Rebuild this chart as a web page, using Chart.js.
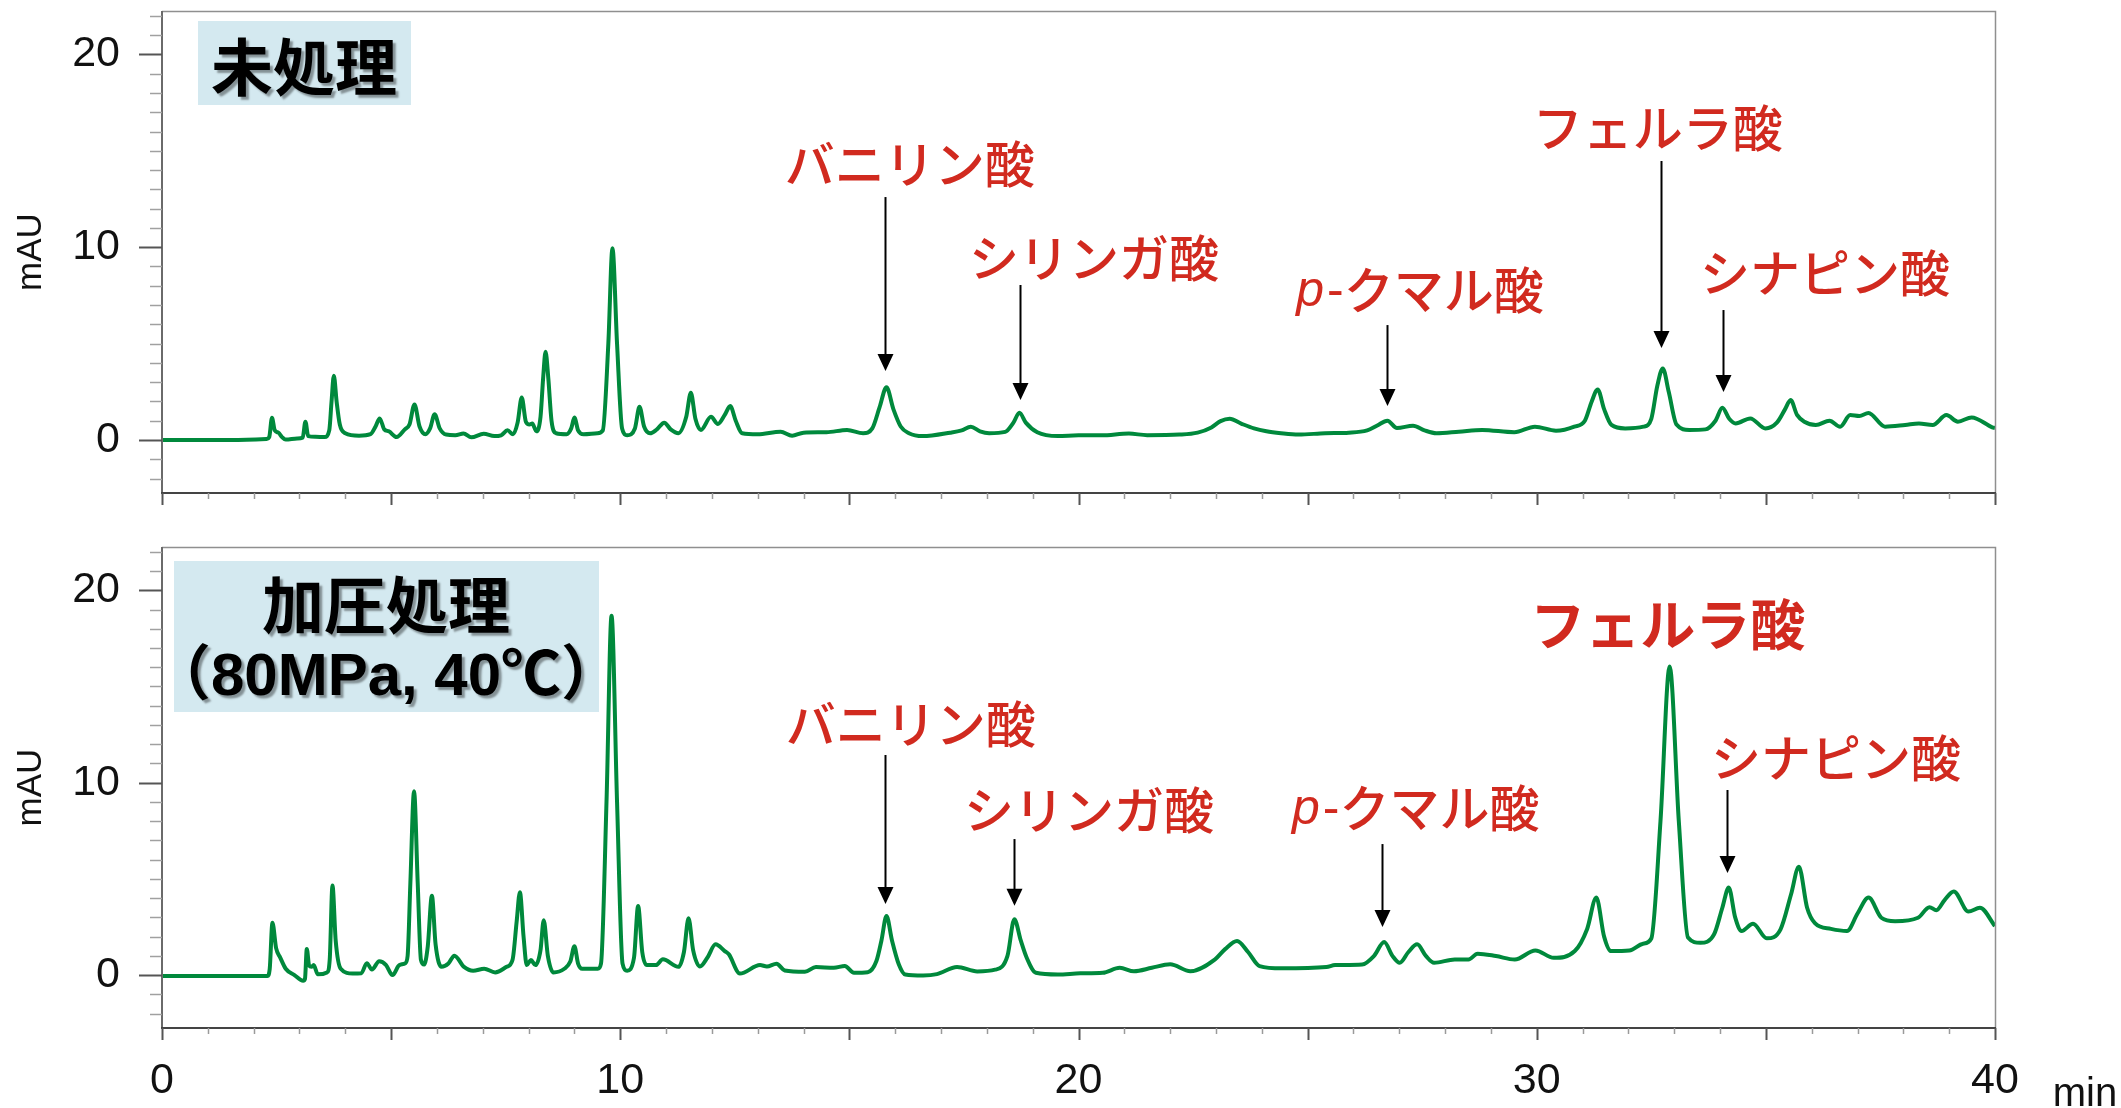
<!DOCTYPE html>
<html>
<head>
<meta charset="utf-8">
<script src="https://cdn.jsdelivr.net/npm/chart.js@4/dist/chart.umd.min.js"></script>
<style>
  html, body { margin: 0; padding: 0; background: #ffffff; }
  #wrap { position: relative; width: 2121px; height: 1108px; overflow: hidden; }
  canvas { position: absolute; left: 0; }
  #untreated { top: 0; }
  #pressurized { top: 520px; }
</style>
</head>
<body>
<div id="wrap">
  <canvas id="untreated" width="2121" height="520"></canvas>
  <canvas id="pressurized" width="2121" height="588"></canvas>
</div>
<script>
// ---- Chromatogram traces: [retention time (min), absorbance (mAU)] ----
const untreatedTrace = [
  [0,0],[1.5,0.0],[2.28,0.05],[2.34,0.15],[2.40,1.15],[2.46,0.5],[2.54,0.38],[2.62,0.15],[2.7,0.02],
  [2.95,0.08],[3.07,0.12],[3.13,0.95],[3.19,0.2],[3.35,0.17],[3.55,0.15],[3.65,0.5],[3.7,2.0],[3.75,3.33],
  [3.81,2.0],[3.88,0.8],[4.0,0.35],[4.3,0.22],[4.55,0.3],[4.66,0.7],[4.75,1.12],[4.85,0.55],[4.95,0.45],
  [5.12,0.15],[5.3,0.55],[5.4,0.8],[5.51,1.84],[5.62,0.7],[5.75,0.3],[5.85,0.6],[5.95,1.33],[6.06,0.6],
  [6.2,0.28],[6.4,0.25],[6.58,0.34],[6.75,0.14],[7.02,0.32],[7.25,0.2],[7.4,0.24],[7.54,0.5],[7.66,0.3],
  [7.76,0.9],[7.85,2.2],[7.94,0.95],[8.02,0.8],[8.08,0.85],[8.17,0.45],[8.26,1.2],[8.32,3.3],[8.37,4.57],
  [8.43,3.2],[8.5,1.0],[8.6,0.35],[8.83,0.3],[8.93,0.6],[9.0,1.16],[9.08,0.5],[9.2,0.3],[9.5,0.35],
  [9.62,0.5],[9.74,5.0],[9.83,9.95],[9.93,5.0],[10.04,0.6],[10.15,0.25],[10.32,0.6],[10.42,1.72],[10.52,0.7],
  [10.65,0.35],[10.8,0.55],[10.96,0.9],[11.1,0.55],[11.27,0.35],[11.44,1.2],[11.54,2.45],[11.64,1.1],
  [11.76,0.52],[11.98,1.2],[12.13,0.83],[12.28,1.3],[12.4,1.76],[12.52,1.0],[12.66,0.35],[13.0,0.3],
  [13.5,0.43],[13.75,0.22],[14.0,0.38],[14.5,0.4],[14.95,0.52],[15.3,0.35],[15.5,0.6],[15.66,1.7],
  [15.81,2.73],[15.96,1.6],[16.12,0.7],[16.3,0.35],[16.6,0.2],[17.2,0.38],[17.45,0.5],[17.65,0.69],
  [17.85,0.45],[18.05,0.35],[18.4,0.42],[18.58,0.9],[18.71,1.41],[18.85,0.9],[19.1,0.4],[19.55,0.2],
  [20.0,0.25],[20.5,0.24],[21.1,0.33],[21.5,0.25],[22.2,0.28],[22.6,0.38],[22.9,0.65],[23.1,0.98],
  [23.3,1.1],[23.55,0.85],[23.83,0.6],[24.1,0.45],[24.42,0.35],[24.8,0.28],[25.38,0.35],[25.9,0.38],
  [26.3,0.5],[26.52,0.75],[26.74,1.0],[26.95,0.62],[27.3,0.74],[27.55,0.5],[27.81,0.35],[28.3,0.43],
  [28.81,0.52],[29.51,0.4],[29.96,0.69],[30.42,0.48],[30.82,0.69],[31.05,1.0],[31.2,2.0],[31.33,2.62],
  [31.47,1.6],[31.63,0.78],[31.93,0.6],[32.33,0.69],[32.5,1.1],[32.63,2.8],[32.75,3.71],[32.88,2.5],
  [33.05,0.8],[33.33,0.52],[33.68,0.55],[33.9,1.0],[34.05,1.67],[34.2,1.1],[34.34,0.86],[34.66,1.12],
  [34.99,0.6],[35.24,0.9],[35.42,1.6],[35.54,2.07],[35.68,1.3],[35.84,0.95],[36.09,0.78],[36.39,1.0],
  [36.62,0.69],[36.84,1.29],[37.04,1.24],[37.24,1.4],[37.6,0.69],[38.04,0.78],[38.34,0.86],[38.64,0.78],
  [38.94,1.29],[39.19,0.95],[39.49,1.17],[39.94,0.66],[40,0.62]
];

const pressurizedTrace = [
  [0,-0.05],[2.3,-0.05],[2.35,0.3],[2.41,2.72],[2.49,1.4],[2.58,0.91],[2.7,0.33],[2.89,0.0],[3.08,-0.3],
  [3.12,-0.2],[3.16,1.36],[3.21,0.5],[3.26,0.43],[3.31,0.52],[3.4,0.04],[3.6,0.14],[3.66,0.8],[3.72,4.66],
  [3.79,1.8],[3.9,0.33],[4.16,0.08],[4.35,0.1],[4.47,0.62],[4.58,0.29],[4.74,0.72],[4.89,0.52],[5.03,0.0],
  [5.18,0.52],[5.31,0.62],[5.36,1.0],[5.42,4.8],[5.5,9.55],[5.58,4.8],[5.65,0.8],[5.72,0.55],[5.8,1.5],
  [5.89,4.12],[5.97,1.6],[6.1,0.43],[6.25,0.6],[6.38,1.01],[6.59,0.43],[6.79,0.23],[7.03,0.33],[7.27,0.14],
  [7.52,0.43],[7.65,0.8],[7.74,2.8],[7.81,4.31],[7.89,2.0],[7.96,0.52],[8.05,0.78],[8.15,0.52],[8.26,1.3],
  [8.33,2.85],[8.42,1.0],[8.54,0.14],[8.78,0.33],[8.91,0.7],[9.0,1.5],[9.08,0.6],[9.17,0.33],[9.51,0.33],
  [9.58,0.6],[9.7,9.0],[9.81,18.68],[9.93,9.0],[10.05,0.6],[10.15,0.23],[10.3,0.9],[10.39,3.59],[10.48,1.2],
  [10.58,0.52],[10.78,0.52],[10.93,0.82],[11.27,0.43],[11.39,1.2],[11.49,2.95],[11.59,1.3],[11.74,0.45],
  [11.9,0.9],[12.08,1.6],[12.28,1.25],[12.37,1.08],[12.61,0.08],[13.05,0.52],[13.2,0.45],[13.41,0.59],
  [13.59,0.24],[14.03,0.17],[14.27,0.42],[14.66,0.38],[14.9,0.47],[15.1,0.12],[15.4,0.15],[15.59,0.73],
  [15.7,1.8],[15.81,3.07],[15.93,1.8],[16.08,0.55],[16.22,0.03],[16.61,-0.02],[16.91,0.05],[17.35,0.42],
  [17.79,0.19],[18.18,0.28],[18.45,1.0],[18.6,2.9],[18.74,1.8],[18.87,0.9],[19.07,0.12],[19.55,0.03],
  [20.04,0.09],[20.53,0.12],[20.9,0.38],[21.21,0.2],[21.6,0.38],[22.0,0.56],[22.44,0.2],[22.98,0.82],
  [23.2,1.35],[23.46,1.77],[23.7,1.2],[23.95,0.47],[24.44,0.35],[25.41,0.42],[25.6,0.52],[26.19,0.55],
  [26.45,1.0],[26.67,1.72],[26.85,1.0],[27.01,0.64],[27.2,1.2],[27.39,1.6],[27.58,1.0],[27.76,0.64],
  [28.21,0.81],[28.51,0.81],[28.71,1.11],[29.11,0.99],[29.52,0.81],[29.97,1.28],[30.37,0.9],[30.83,1.25],
  [31.1,2.4],[31.3,4.03],[31.47,2.0],[31.62,1.25],[32.02,1.28],[32.32,1.63],[32.5,1.9],[32.7,8.0],
  [32.9,16.04],[33.1,8.0],[33.3,1.95],[33.57,1.68],[33.87,2.12],[34.05,3.5],[34.19,4.55],[34.33,3.0],
  [34.47,2.29],[34.72,2.67],[35.02,1.91],[35.32,2.38],[35.55,4.2],[35.72,5.63],[35.9,3.5],[36.07,2.7],
  [36.42,2.4],[36.77,2.29],[37.0,3.2],[37.24,4.03],[37.52,2.98],[37.82,2.8],[38.32,2.98],[38.57,3.53],
  [38.72,3.37],[38.9,3.9],[39.1,4.35],[39.42,3.3],[39.67,3.5],[40,2.55]
];

// ---- Axis tick labels ----
const timeTickLabels = [0, 10, 20, 30, 40];
const mauTickLabels = [0, 10, 20];

// ---- Panel captions and compound names ----
const captionUntreated = ['未処理'];
const captionPressurized = ['加圧処理', '（80MPa, 40℃）'];
const compoundNames = ['バニリン酸', 'シリンガ酸', 'p-クマル酸', 'フェルラ酸', 'シナピン酸'];

// Annotation anchors in data units: label centre [t, mAU], arrow [t, top mAU, tip mAU]
const untreatedNotes = [
  { name: 0, label: [16.32, 14.32], arrow: [15.78, 12.6, 3.58] },
  { name: 1, label: [20.34, 9.44],  arrow: [18.72, 8.04, 2.07] },
  { name: 2, label: [27.45, 7.78],  arrow: [26.73, 5.96, 1.76] },
  { name: 3, label: [32.64, 16.18], arrow: [32.71, 14.47, 4.77] },
  { name: 4, label: [36.29, 8.66],  arrow: [34.06, 6.74, 2.49] }
];
const pressurizedNotes = [
  { name: 0, label: [16.34, 13.04], arrow: [15.78, 11.44, 3.70] },
  { name: 1, label: [20.23, 8.58],  arrow: [18.59, 7.07, 3.60] },
  { name: 2, label: [27.36, 8.69],  arrow: [26.62, 6.81, 2.50] },
  { name: 3, label: [32.86, 18.25], bold: true },
  { name: 4, label: [36.53, 11.28], arrow: [34.15, 9.62, 5.31] }
];

Chart.defaults.font.family = '"Liberation Sans", Arial, sans-serif';
Chart.defaults.color = '#111111';

const TRACE_COLOR = '#00893c';
const NOTE_COLOR = '#d12a1f';
const JP = '"Noto Sans CJK JP", "Noto Sans", sans-serif';

// Axis frame, minor ticks and box outline
const framePlugin = {
  id: 'frame',
  afterDraw(chart) {
    const { ctx, chartArea: a, scales: { x, y } } = chart;
    ctx.save();
    // top and right border of the plot box
    ctx.strokeStyle = '#8f8f8f';
    ctx.lineWidth = 1.5;
    ctx.beginPath();
    ctx.moveTo(a.left, a.top + 0.5);
    ctx.lineTo(a.right + 0.5, a.top + 0.5);
    ctx.lineTo(a.right + 0.5, a.bottom);
    ctx.stroke();
    // y axis with 1 mAU ticks
    ctx.strokeStyle = '#6a6a6a';
    ctx.lineWidth = 2;
    ctx.beginPath();
    ctx.moveTo(a.left, a.top);
    ctx.lineTo(a.left, a.bottom);
    ctx.stroke();
    for (let v = Math.ceil(y.min); v <= Math.floor(y.max); v++) {
      const py = Math.round(y.getPixelForValue(v)) + 0.5;
      const major = v % 10 === 0;
      ctx.strokeStyle = major ? '#555555' : '#a0a0a0';
      ctx.lineWidth = major ? 2 : 1.5;
      ctx.beginPath();
      ctx.moveTo(a.left - (major ? 23 : 12), py);
      ctx.lineTo(a.left, py);
      ctx.stroke();
    }
    // x axis with 1 min ticks
    ctx.strokeStyle = '#444444';
    ctx.lineWidth = 2;
    ctx.beginPath();
    ctx.moveTo(a.left - 1, a.bottom);
    ctx.lineTo(a.right + 1, a.bottom);
    ctx.stroke();
    for (let t = x.min; t <= x.max; t++) {
      const px = Math.round(x.getPixelForValue(t)) + 0.5;
      const major = t % 5 === 0;
      ctx.strokeStyle = major ? '#555555' : '#9a9a9a';
      ctx.lineWidth = major ? 2 : 1.5;
      ctx.beginPath();
      ctx.moveTo(px, a.bottom);
      ctx.lineTo(px, a.bottom + (major ? 12 : 6));
      ctx.stroke();
    }
    ctx.restore();
  }
};

function drawCompound(ctx, text, cx, cy, bold) {
  const size = bold ? 55 : 50;
  const weight = bold ? '700' : '500';
  ctx.fillStyle = NOTE_COLOR;
  ctx.textBaseline = 'middle';
  ctx.textAlign = 'left';
  if (text.startsWith('p-')) {
    const italic = `italic ${weight} ${size}px "Liberation Sans", Arial, sans-serif`;
    const hyphenFont = `${weight} ${size}px "Liberation Sans", Arial, sans-serif`;
    const jp = `${weight} ${size}px ${JP}`;
    ctx.font = italic; const w1 = ctx.measureText('p').width;
    ctx.font = hyphenFont; const w2 = ctx.measureText('-').width;
    ctx.font = jp; const w3 = ctx.measureText(text.slice(2)).width;
    let left = cx - (w1 + w2 + w3 + 3) / 2;
    ctx.font = italic; ctx.fillText('p', left, cy + 2); left += w1 + 3;
    ctx.font = hyphenFont; ctx.fillText('-', left, cy + 2); left += w2;
    ctx.font = jp; ctx.fillText(text.slice(2), left, cy);
  } else {
    ctx.font = `${weight} ${size}px ${JP}`;
    ctx.textAlign = 'center';
    ctx.fillText(text, cx, cy);
  }
}

function drawArrow(ctx, px, yTop, yTip) {
  ctx.strokeStyle = '#000000';
  ctx.fillStyle = '#000000';
  ctx.lineWidth = 2;
  ctx.beginPath();
  ctx.moveTo(px, yTop);
  ctx.lineTo(px, yTip - 14);
  ctx.stroke();
  ctx.beginPath();
  ctx.moveTo(px - 8, yTip - 17);
  ctx.lineTo(px + 8, yTip - 17);
  ctx.lineTo(px, yTip);
  ctx.closePath();
  ctx.fill();
}

// Compound labels, arrows and the panel caption
const notesPlugin = {
  id: 'notes',
  afterDraw(chart, args, opts) {
    const { ctx, chartArea: a, scales: { x, y } } = chart;
    ctx.save();
    for (const n of opts.marks) {
      const lx = x.getPixelForValue(n.label[0]);
      const ly = y.getPixelForValue(n.label[1]);
      drawCompound(ctx, compoundNames[n.name], lx, ly, n.bold);
      if (n.arrow) {
        const ax = Math.round(x.getPixelForValue(n.arrow[0])) + 0.5;
        drawArrow(ctx, ax, y.getPixelForValue(n.arrow[1]), y.getPixelForValue(n.arrow[2]));
      }
    }
    // caption box
    const c = opts.caption;
    ctx.fillStyle = '#d4e9f0';
    ctx.fillRect(a.left + c.box[0], a.top + c.box[1], c.box[2], c.box[3]);
    ctx.shadowColor = 'rgba(0,0,0,0.38)';
    ctx.shadowOffsetX = 3;
    ctx.shadowOffsetY = 3;
    ctx.shadowBlur = 2;
    ctx.fillStyle = '#000000';
    ctx.textAlign = 'center';
    ctx.textBaseline = 'middle';
    c.lines.forEach((line, i) => {
      ctx.font = c.fonts[i];
      ctx.fillText(line, a.left + c.centerX, a.top + c.rowsY[i]);
    });
    ctx.restore();
  }
};

// Unit label of the time axis
const minutePlugin = {
  id: 'minuteUnit',
  afterDraw(chart, args, opts) {
    if (!opts.show) return;
    const { ctx, scales: { x } } = chart;
    ctx.save();
    ctx.fillStyle = '#111111';
    ctx.font = '40px "Liberation Sans", Arial, sans-serif';
    ctx.textAlign = 'center';
    ctx.textBaseline = 'alphabetic';
    ctx.fillText('min', x.right + 90, chart.height - 2);
    ctx.restore();
  }
};

function makeChart(canvasId, trace, panel) {
  return new Chart(document.getElementById(canvasId), {
    type: 'line',
    data: {
      datasets: [{
        data: trace.map(p => ({ x: p[0], y: p[1] })),
        borderColor: TRACE_COLOR,
        borderWidth: 4,
        pointRadius: 0,
        fill: false,
        cubicInterpolationMode: 'monotone'
      }]
    },
    options: {
      responsive: false,
      animation: false,
      devicePixelRatio: 1,
      layout: { padding: { top: panel.padTop, right: 126, left: 0, bottom: 0 } },
      plugins: {
        legend: { display: false },
        tooltip: { enabled: false },
        notes: { marks: panel.notes, caption: panel.caption },
        minuteUnit: { show: panel.showTimeLabels }
      },
      scales: {
        x: {
          type: 'linear',
          min: 0,
          max: 40,
          afterBuildTicks: s => { s.ticks = timeTickLabels.map(v => ({ value: v })); },
          afterFit: s => {
            s.height = panel.xHeight;
            s.paddingLeft = 0;
            s.paddingRight = 0;
          },
          grid: { display: false, drawTicks: false },
          border: { display: false },
          ticks: {
            display: panel.showTimeLabels,
            padding: 27,
            maxRotation: 0,
            font: { size: 43 },
            color: '#111111'
          }
        },
        y: {
          min: -2.75,
          max: 22.25,
          afterBuildTicks: s => { s.ticks = mauTickLabels.map(v => ({ value: v })); },
          afterFit: s => {
            s.width = 162;
            s.paddingTop = 0;
            s.paddingBottom = 0;
          },
          grid: { display: false, drawTicks: false },
          border: { display: false },
          ticks: { padding: 42, font: { size: 43 }, color: '#111111' },
          title: {
            display: true,
            text: 'mAU',
            font: { size: 35 },
            color: '#111111',
            padding: { top: 10, bottom: 0 }
          }
        }
      }
    },
    plugins: [framePlugin, notesPlugin, minutePlugin]
  });
}

makeChart('untreated', untreatedTrace, {
  padTop: 11,
  xHeight: 27,
  showTimeLabels: false,
  notes: untreatedNotes,
  caption: {
    box: [36, 10, 213, 84],
    lines: captionUntreated,
    fonts: ['700 62px ' + JP],
    centerX: 142,
    rowsY: [56]
  }
});

makeChart('pressurized', pressurizedTrace, {
  padTop: 27,
  xHeight: 80,
  showTimeLabels: true,
  notes: pressurizedNotes,
  caption: {
    box: [12, 14, 425, 151],
    lines: captionPressurized,
    fonts: ['700 62px ' + JP, '700 60px "Liberation Sans", ' + JP],
    centerX: 224,
    rowsY: [58, 131]
  }
});
</script>
</body>
</html>
